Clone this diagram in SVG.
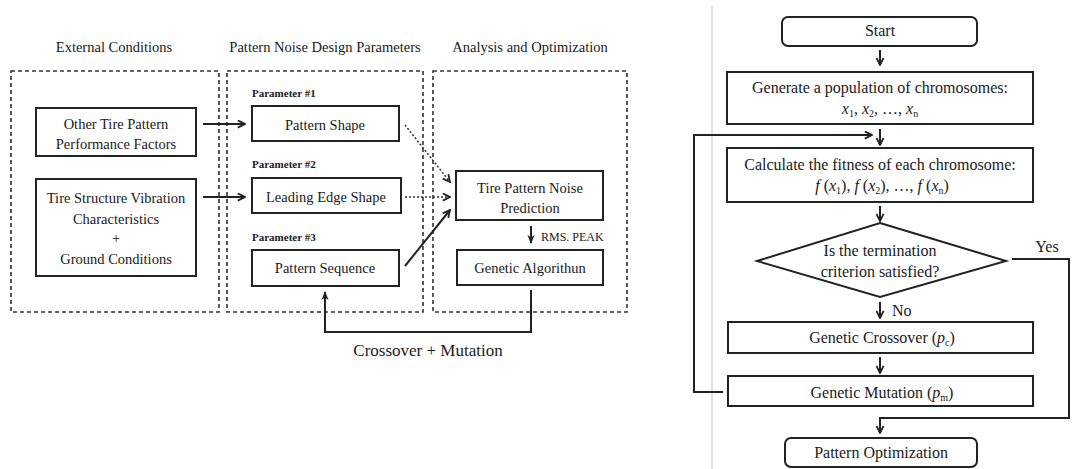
<svg xmlns="http://www.w3.org/2000/svg" width="1073" height="469" viewBox="0 0 1073 469" font-family="'Liberation Serif', 'DejaVu Serif', serif">
<style>
text{font-family:'Liberation Serif','DejaVu Serif',serif;fill:#1a1a1a}
.h{font-size:14.5px;text-anchor:middle}
.n{font-size:14.5px;text-anchor:middle}
.p{font-size:11px;font-weight:bold}
.r{font-size:16px;text-anchor:middle}
.box{fill:#fff;stroke:#222;stroke-width:2}
.dash{fill:none;stroke:#333;stroke-width:1.6;stroke-dasharray:4 3}
.ln{fill:none;stroke:#222;stroke-width:2}
.dot{fill:none;stroke:#333;stroke-width:1.5;stroke-dasharray:2 2}
.i{font-style:italic}
</style>
<defs>
<marker id="ah" viewBox="0 0 10 10" refX="9" refY="5" markerWidth="9" markerHeight="9" orient="auto" markerUnits="userSpaceOnUse"><path d="M1,1 L9,5 L1,9" fill="none" stroke="#222" stroke-width="2"/></marker>
<marker id="ahf" viewBox="0 0 10 10" refX="9" refY="5" markerWidth="9" markerHeight="9" orient="auto" markerUnits="userSpaceOnUse"><path d="M0,1 L10,5 L0,9 L3,5 Z" fill="#222"/></marker>
</defs>

<!-- headings -->
<text class="h" x="114" y="52">External Conditions</text>
<text class="h" x="325" y="52">Pattern Noise Design Parameters</text>
<text class="h" x="530" y="52">Analysis and Optimization</text>

<!-- dashed panels -->
<g id="panels">
<rect class="dash" x="11" y="71" width="208" height="241"/>
<rect class="dash" x="227" y="71" width="196" height="241"/>
<rect class="dash" x="433" y="71" width="194" height="241"/>
</g>

<!-- separator -->
<line x1="712" y1="5" x2="712" y2="469" stroke="#d8d8d8" stroke-width="1.5"/>

<g id="n-other">
<rect class="box" x="36" y="108" width="160" height="48"/>
<text class="n" x="116" y="129">Other Tire Pattern</text>
<text class="n" x="116" y="149">Performance Factors</text>
</g>
<g id="n-struct">
<rect class="box" x="36" y="179" width="160" height="97"/>
<text class="n" x="116" y="203">Tire Structure Vibration</text>
<text class="n" x="116" y="224">Characteristics</text>
<text class="n" x="116" y="243">+</text>
<text class="n" x="116" y="264">Ground Conditions</text>
</g>
<g id="n-shape">
<text class="p" x="252" y="97">Parameter #1</text>
<rect class="box" x="252" y="106" width="147" height="35"/>
<text class="n" x="325" y="130">Pattern Shape</text>
</g>
<g id="n-edge">
<text class="p" x="252" y="168">Parameter #2</text>
<rect class="box" x="252" y="178" width="149" height="35"/>
<text class="n" x="326" y="202">Leading Edge Shape</text>
</g>
<g id="n-seq">
<text class="p" x="252" y="241">Parameter #3</text>
<rect class="box" x="252" y="250" width="147" height="36"/>
<text class="n" x="325" y="273">Pattern Sequence</text>
</g>
<g id="n-pred">
<rect class="box" x="456" y="171" width="147" height="49"/>
<text class="n" x="530" y="193">Tire Pattern Noise</text>
<text class="n" x="530" y="213">Prediction</text>
</g>
<g id="n-ga">
<rect class="box" x="457" y="250" width="146" height="35"/>
<text class="n" x="530" y="273">Genetic Algorithun</text>
</g>

<!-- right flowchart nodes -->
<g id="n-start">
<rect class="box" x="782" y="17" width="195" height="29" rx="6"/>
<text class="r" x="880" y="36">Start</text>
</g>
<g id="n-gen">
<rect class="box" x="727" y="72" width="306" height="52"/>
<text class="r" x="880" y="93">Generate a population of chromosomes:</text>
<text class="r" x="880" y="114"><tspan class="i">x</tspan><tspan font-size="10" dy="3">1</tspan><tspan dy="-3">, </tspan><tspan class="i">x</tspan><tspan font-size="10" dy="3">2</tspan><tspan dy="-3">, …, </tspan><tspan class="i">x</tspan><tspan font-size="10" dy="3">n</tspan></text>
</g>
<g id="n-calc">
<rect class="box" x="727" y="148" width="306" height="54"/>
<text class="r" x="880" y="170">Calculate the fitness of each chromosome:</text>
<text class="r" x="882" y="191"><tspan class="i">f</tspan><tspan> (</tspan><tspan class="i">x</tspan><tspan font-size="10" dy="3">1</tspan><tspan dy="-3">), </tspan><tspan class="i">f</tspan><tspan> (</tspan><tspan class="i">x</tspan><tspan font-size="10" dy="3">2</tspan><tspan dy="-3">), …, </tspan><tspan class="i">f</tspan><tspan> (</tspan><tspan class="i">x</tspan><tspan font-size="10" dy="3">n</tspan><tspan dy="-3">)</tspan></text>
</g>
<g id="n-term">
<polygon class="box" points="880,223 1006,261 880,297 757,261"/>
<text class="r" x="880" y="256">Is the termination</text>
<text class="r" x="880" y="277">criterion satisfied?</text>
</g>
<g id="n-cross">
<rect class="box" x="728" y="322" width="305" height="31"/>
<text class="r" x="882" y="343">Genetic Crossover (<tspan class="i">p</tspan><tspan font-size="10" dy="3">c</tspan><tspan dy="-3">)</tspan></text>
</g>
<g id="n-mut">
<rect class="box" x="728" y="376" width="305" height="30"/>
<text class="r" x="882" y="398">Genetic Mutation (<tspan class="i">p</tspan><tspan font-size="10" dy="3">m</tspan><tspan dy="-3">)</tspan></text>
</g>
<g id="n-opt">
<rect class="box" x="785" y="438" width="192" height="29" rx="6"/>
<text class="r" x="881" y="458">Pattern Optimization</text>
</g>

<!-- connectors -->
<g id="connectors">
<line class="ln" x1="203" y1="124" x2="245" y2="124" marker-end="url(#ah)"/>
<line class="ln" x1="203" y1="197" x2="245" y2="197" marker-end="url(#ah)"/>
<line class="dot" x1="405" y1="125" x2="450" y2="182" marker-end="url(#ah)"/>
<line class="dot" x1="405" y1="197" x2="450" y2="197" marker-end="url(#ah)"/>
<line class="ln" x1="405" y1="266" x2="450" y2="210" marker-end="url(#ah)"/>
<line class="ln" x1="531" y1="226" x2="531" y2="243" marker-end="url(#ahf)"/>
<text x="541" y="241" font-size="12px">RMS. PEAK</text>
<polyline class="ln" points="531,290 531,332 325,332 325,292" marker-end="url(#ahf)"/>
<text x="428" y="356" font-size="17px" text-anchor="middle">Crossover + Mutation</text>

<line class="ln" x1="880" y1="50" x2="880" y2="65" marker-end="url(#ah)"/>
<line class="ln" x1="880" y1="129" x2="880" y2="145" marker-end="url(#ah)"/>
<line class="ln" x1="880" y1="206" x2="880" y2="221" marker-end="url(#ah)"/>
<line class="ln" x1="880" y1="302" x2="880" y2="318" marker-end="url(#ah)"/>
<text x="892" y="316" font-size="16px">No</text>
<line class="ln" x1="880" y1="357" x2="880" y2="373" marker-end="url(#ah)"/>
<polyline class="ln" points="1012,259 1069,259 1069,418 880,418 880,433" marker-end="url(#ah)"/>
<text x="1047" y="252" font-size="16px" text-anchor="middle">Yes</text>
<polyline class="ln" points="723,392 694,392 694,135 872,135" marker-end="url(#ah)"/>
</g>
</svg>
